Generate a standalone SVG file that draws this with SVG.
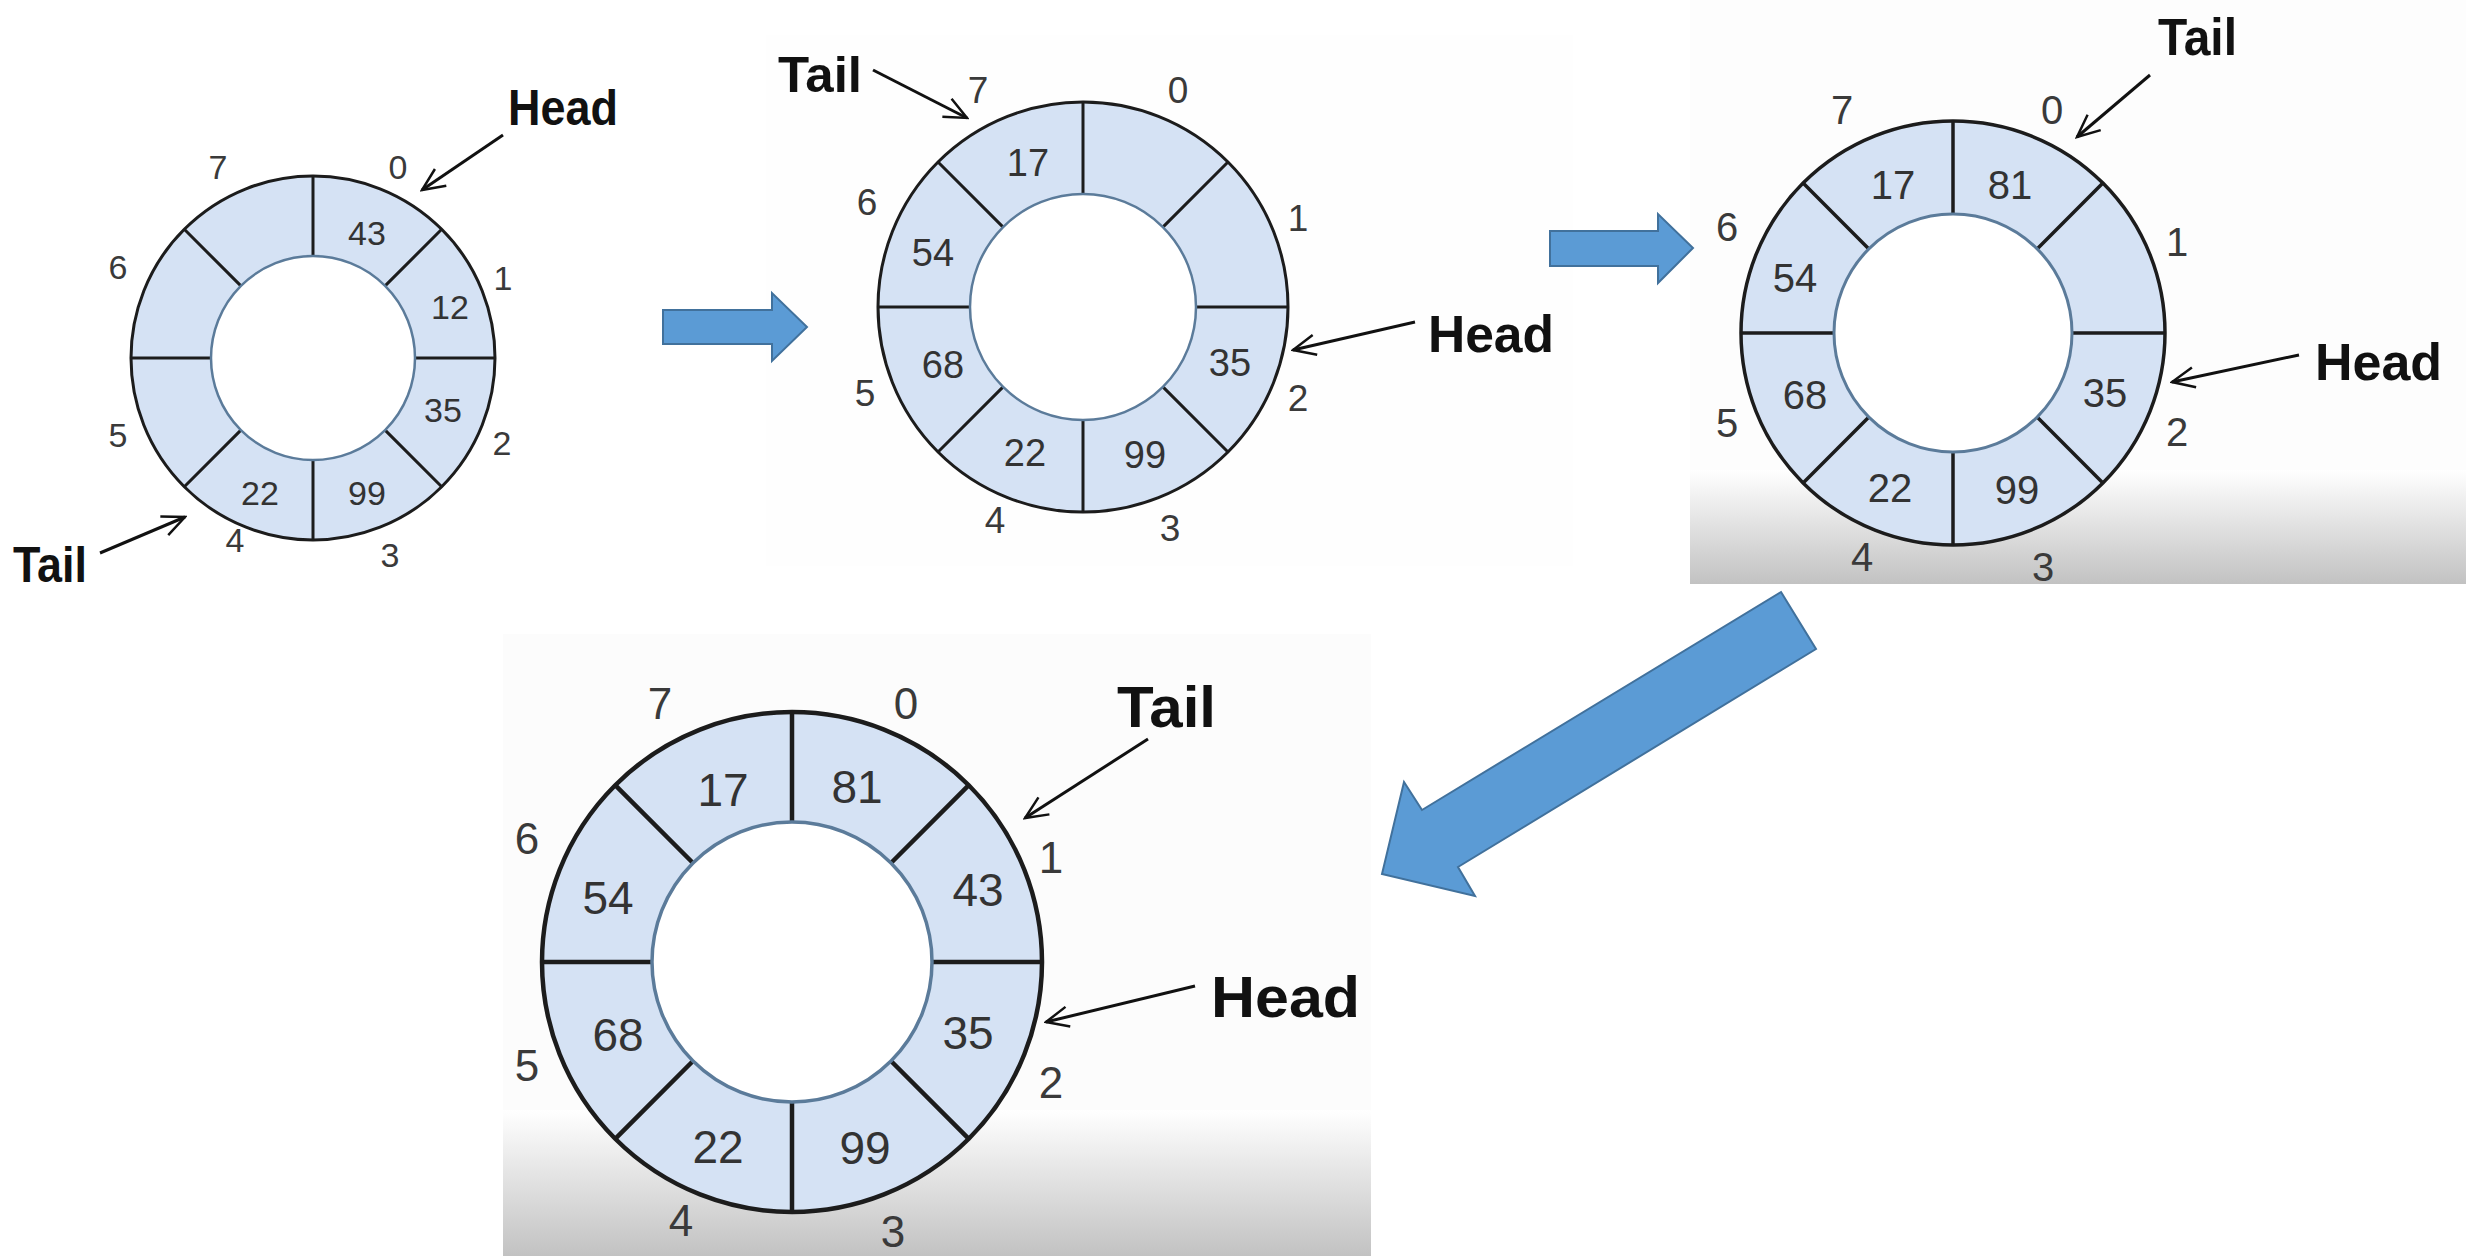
<svg xmlns="http://www.w3.org/2000/svg" width="2466" height="1256" viewBox="0 0 2466 1256">
<style>
.ring{fill:#d5e2f4;stroke:none}
.rim{fill:none;stroke:#1c1c1c}
.div{fill:none;stroke:#1c1c1c}
.hole{fill:#ffffff;stroke:#5b7b9a}
.num{font-family:"Liberation Sans",Arial,sans-serif;fill:#333;text-anchor:middle}
.idx{font-family:"Liberation Sans",Arial,sans-serif;fill:#3a3a3a;text-anchor:middle}
.ptr{font-family:"Liberation Sans",Arial,sans-serif;font-weight:bold;fill:#111}
.pl{fill:none;stroke:#111;stroke-width:3}
.big{fill:#5b9bd5;stroke:#41719c;stroke-width:2}
</style>
<defs>
<marker id="ah" viewBox="0 0 12 12" refX="11" refY="6" markerWidth="9" markerHeight="9" markerUnits="strokeWidth" orient="auto">
<path d="M1,1.5 L11,6 L1,10.5" fill="none" stroke="#111" stroke-width="1.1"/>
</marker>
<linearGradient id="shade" x1="0" y1="0" x2="0" y2="1">
<stop offset="0" stop-color="#ffffff"/>
<stop offset="1" stop-color="#c2c2c2"/>
</linearGradient>
</defs>
<rect width="2466" height="1256" fill="#ffffff"/>
<g id="backgrounds">
<rect x="766" y="35" width="807" height="531" fill="#fefefe"/>
<rect x="1690" y="0" width="776" height="584" fill="#fdfdfd"/>
<rect x="1690" y="470" width="776" height="114" fill="url(#shade)"/>
<rect x="503" y="634" width="868" height="622" fill="#fcfcfc"/>
<rect x="503" y="1110" width="868" height="146" fill="url(#shade)"/>
</g>

<g id="queue1" transform="translate(313,358)">
<circle class="ring" r="182"/>
<path class="div" stroke-width="3" d="M0,-102V-182 M102,0H182 M0,102V182 M-102,0H-182 M72.1,-72.1L128.7,-128.7 M72.1,72.1L128.7,128.7 M-72.1,72.1L-128.7,128.7 M-72.1,-72.1L-128.7,-128.7"/>
<circle class="hole" r="102" stroke-width="2.5"/>
<circle class="rim" r="182" stroke-width="3"/>
</g>
<g id="queue1-labels">
<text class="num" fill="#444" x="367" y="245" font-size="34">43</text>
<text class="num" x="450" y="319" font-size="34">12</text>
<text class="num" x="443" y="422" font-size="34">35</text>
<text class="num" x="367" y="505" font-size="34">99</text>
<text class="num" x="260" y="505" font-size="34">22</text>
<text class="idx" x="398" y="179" font-size="34">0</text>
<text class="idx" x="503" y="290" font-size="34">1</text>
<text class="idx" x="502" y="455" font-size="34">2</text>
<text class="idx" x="390" y="567" font-size="34">3</text>
<text class="idx" x="235" y="552" font-size="34">4</text>
<text class="idx" x="118" y="447" font-size="34">5</text>
<text class="idx" x="118" y="279" font-size="34">6</text>
<text class="idx" x="218" y="179" font-size="34">7</text>
</g>

<g id="queue2" transform="translate(1083,307)">
<circle class="ring" r="205"/>
<path class="div" stroke-width="3" d="M0,-113V-205 M113,0H205 M0,113V205 M-113,0H-205 M79.9,-79.9L145,-145 M79.9,79.9L145,145 M-79.9,79.9L-145,145 M-79.9,-79.9L-145,-145"/>
<circle class="hole" r="113" stroke-width="2.5"/>
<circle class="rim" r="205" stroke-width="3"/>
</g>
<g id="queue2-labels">
<text class="num" x="1028" y="176" font-size="38">17</text>
<text class="num" x="933" y="266" font-size="38">54</text>
<text class="num" x="943" y="378" font-size="38">68</text>
<text class="num" x="1025" y="466" font-size="38">22</text>
<text class="num" x="1145" y="468" font-size="38">99</text>
<text class="num" x="1230" y="376" font-size="38">35</text>
<text class="idx" x="978" y="103" font-size="37">7</text>
<text class="idx" x="1178" y="103" font-size="37">0</text>
<text class="idx" x="1298" y="231" font-size="37">1</text>
<text class="idx" x="1298" y="411" font-size="37">2</text>
<text class="idx" x="1170" y="541" font-size="37">3</text>
<text class="idx" x="995" y="533" font-size="37">4</text>
<text class="idx" x="865" y="406" font-size="37">5</text>
<text class="idx" x="867" y="215" font-size="37">6</text>
</g>

<g id="queue3" transform="translate(1953,333)">
<circle class="ring" r="212"/>
<path class="div" stroke-width="3.5" d="M0,-119V-212 M119,0H212 M0,119V212 M-119,0H-212 M84.1,-84.1L149.9,-149.9 M84.1,84.1L149.9,149.9 M-84.1,84.1L-149.9,149.9 M-84.1,-84.1L-149.9,-149.9"/>
<circle class="hole" r="119" stroke-width="3"/>
<circle class="rim" r="212" stroke-width="3.5"/>
</g>
<g id="queue3-labels">
<text class="num" fill="#222" x="1893" y="199" font-size="40">17</text>
<text class="num" fill="#222" x="2010" y="199" font-size="40">81</text>
<text class="num" fill="#222" x="1795" y="292" font-size="40">54</text>
<text class="num" fill="#222" x="1805" y="409" font-size="40">68</text>
<text class="num" fill="#222" x="2105" y="407" font-size="40">35</text>
<text class="num" fill="#222" x="1890" y="502" font-size="40">22</text>
<text class="num" fill="#222" x="2017" y="504" font-size="40">99</text>
<text class="idx" fill="#222" x="1842" y="124" font-size="40">7</text>
<text class="idx" fill="#222" x="2052" y="124" font-size="40">0</text>
<text class="idx" fill="#222" x="2177" y="256" font-size="40">1</text>
<text class="idx" fill="#222" x="2177" y="446" font-size="40">2</text>
<text class="idx" fill="#222" x="2043" y="581" font-size="40">3</text>
<text class="idx" fill="#222" x="1862" y="571" font-size="40">4</text>
<text class="idx" fill="#222" x="1727" y="437" font-size="40">5</text>
<text class="idx" fill="#222" x="1727" y="241" font-size="40">6</text>
</g>

<g id="queue4" transform="translate(792,962)">
<circle class="ring" r="250"/>
<path class="div" stroke-width="4.5" d="M0,-140V-250 M140,0H250 M0,140V250 M-140,0H-250 M99,-99L176.8,-176.8 M99,99L176.8,176.8 M-99,99L-176.8,176.8 M-99,-99L-176.8,-176.8"/>
<circle class="hole" r="140" stroke-width="3.5"/>
<circle class="rim" r="250" stroke-width="4.5"/>
</g>
<g id="queue4-labels">
<text class="num" fill="#1e1e1e" x="723" y="806" font-size="46">17</text>
<text class="num" fill="#1e1e1e" x="857" y="803" font-size="46">81</text>
<text class="num" fill="#1e1e1e" x="608" y="914" font-size="46">54</text>
<text class="num" fill="#1e1e1e" x="978" y="906" font-size="46">43</text>
<text class="num" fill="#1e1e1e" x="618" y="1051" font-size="46">68</text>
<text class="num" fill="#1e1e1e" x="968" y="1049" font-size="46">35</text>
<text class="num" fill="#1e1e1e" x="718" y="1163" font-size="46">22</text>
<text class="num" fill="#1e1e1e" x="865" y="1164" font-size="46">99</text>
<text class="idx" fill="#1e1e1e" x="660" y="719" font-size="44">7</text>
<text class="idx" fill="#1e1e1e" x="906" y="719" font-size="44">0</text>
<text class="idx" fill="#1e1e1e" x="1051" y="873" font-size="44">1</text>
<text class="idx" fill="#1e1e1e" x="1051" y="1098" font-size="44">2</text>
<text class="idx" fill="#1e1e1e" x="893" y="1247" font-size="44">3</text>
<text class="idx" fill="#1e1e1e" x="681" y="1236" font-size="44">4</text>
<text class="idx" fill="#1e1e1e" x="527" y="1081" font-size="44">5</text>
<text class="idx" fill="#1e1e1e" x="527" y="854" font-size="44">6</text>
</g>

<g id="pointer-labels">
<text class="ptr" x="508" y="125" font-size="50" textLength="110" lengthAdjust="spacingAndGlyphs">Head</text>
<text class="ptr" x="13" y="582" font-size="50" textLength="74" lengthAdjust="spacingAndGlyphs">Tail</text>
<text class="ptr" x="778" y="92" font-size="50" textLength="84" lengthAdjust="spacingAndGlyphs">Tail</text>
<text class="ptr" x="1428" y="352" font-size="52" textLength="126" lengthAdjust="spacingAndGlyphs">Head</text>
<text class="ptr" x="2158" y="55" font-size="52" textLength="79" lengthAdjust="spacingAndGlyphs">Tail</text>
<text class="ptr" x="2315" y="380" font-size="52" textLength="127" lengthAdjust="spacingAndGlyphs">Head</text>
<text class="ptr" x="1117" y="727" font-size="58" textLength="99" lengthAdjust="spacingAndGlyphs">Tail</text>
<text class="ptr" x="1211" y="1017" font-size="58" textLength="149" lengthAdjust="spacingAndGlyphs">Head</text>
</g>

<g id="connectors">
<line class="pl" x1="503" y1="135" x2="422" y2="190" marker-end="url(#ah)"/>
<line class="pl" x1="100" y1="553" x2="185" y2="517" marker-end="url(#ah)"/>
<line class="pl" x1="873" y1="70" x2="967" y2="118" marker-end="url(#ah)"/>
<line class="pl" x1="1415" y1="322" x2="1293" y2="350" marker-end="url(#ah)"/>
<line class="pl" x1="2150" y1="75" x2="2077" y2="137" marker-end="url(#ah)"/>
<line class="pl" x1="2299" y1="355" x2="2172" y2="382" marker-end="url(#ah)"/>
<line class="pl" x1="1148" y1="739" x2="1025" y2="818" marker-end="url(#ah)"/>
<line class="pl" x1="1195" y1="986" x2="1046" y2="1022" marker-end="url(#ah)"/>
<polygon class="big" points="663,310 772,310 772,293 807,327 772,361 772,344 663,344"/>
<polygon class="big" points="1550,231 1658,231 1658,214 1693,248 1658,283 1658,266 1550,266"/>
<polygon class="big" points="1781,592 1816,649 1458,867 1475,896 1382,874 1404,782 1422,810"/>
</g>
</svg>
